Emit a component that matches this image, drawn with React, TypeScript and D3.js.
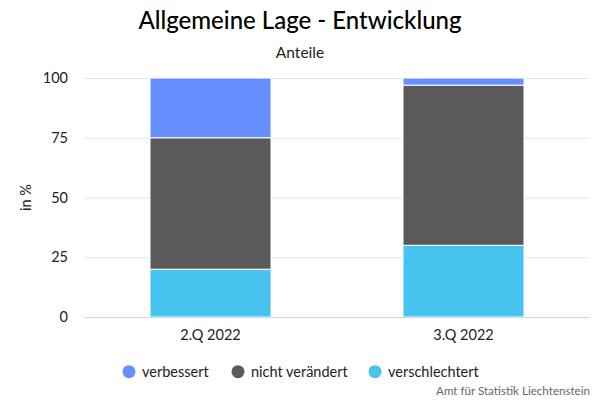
import React from "react";
import * as d3 from "d3";

const categories = ["2.Q 2022", "3.Q 2022"];
const seriesNames = ["verbessert", "nicht verändert", "verschlechtert"];
const verbessert = [25, 3];
const nichtVeraendert = [55, 67];
const verschlechtert = [20, 30];
const yTicks = [0, 25, 50, 75, 100];
const colors = ["#6690ff", "#5a5a5b", "#47c3f0"];

export default function App() {
  const W = 600, H = 400;
  const left = 84, right = 590, top = 78, bottom = 317;
  const x = d3.scaleBand().domain(categories).range([left, right]);
  const y = d3.scaleLinear().domain([0, 100]).range([bottom, top]);
  const barW = 121;
  const font = "Lato, 'Open Sans', sans-serif";

  const rows = categories.map((c, i) => ({
    cat: c,
    verschlechtert: verschlechtert[i],
    nicht: nichtVeraendert[i],
    verbessert: verbessert[i],
  }));
  const stack = d3.stack<any>().keys(["verschlechtert", "nicht", "verbessert"]);
  const stacked = stack(rows);
  const colorFor: Record<string, string> = {
    verbessert: colors[0],
    nicht: colors[1],
    verschlechtert: colors[2],
  };

  const legendX = [129, 238, 375];

  return (
    <svg width={W} height={H} style={{ position: "absolute", left: 0, top: 0, fontFamily: font }}>
      <rect width={W} height={H} fill="#fff" />
      <text x={300} y={29} textAnchor="middle" fontSize={24} fontWeight={500} fill="#000">
        Allgemeine Lage - Entwicklung
      </text>
      <text x={300} y={58} textAnchor="middle" fontSize={15.5} fill="#222">
        Anteile
      </text>
      {yTicks.map((t) => (
        <g key={t}>
          {t !== 0 && (
            <line x1={left} x2={right} y1={y(t) + 0.5} y2={y(t) + 0.5} stroke="#e6e6e6" />
          )}
          <text x={68} y={y(t) + 5} textAnchor="end" fontSize={14.5} fill="#222">
            {t}
          </text>
        </g>
      ))}
      <text
        transform={`translate(31,${(top + bottom) / 2}) rotate(-90)`}
        textAnchor="middle"
        fontSize={14.5}
        fill="#222"
      >
        in %
      </text>
      {stacked.map((s) => (
        <g key={s.key}>
          {s.map((d, i) => {
            const cx = (x(categories[i]) as number) + x.bandwidth() / 2;
            return (
              <rect
                key={i}
                x={cx - barW / 2}
                y={y(d[1])}
                width={barW}
                height={y(d[0]) - y(d[1])}
                fill={colorFor[s.key]}
                stroke="#fff"
                strokeWidth={1}
              />
            );
          })}
        </g>
      ))}
      <line x1={left} x2={right} y1={bottom + 0.5} y2={bottom + 0.5} stroke="#ccd6eb" />
      {categories.map((c) => (
        <text
          key={c}
          x={(x(c) as number) + x.bandwidth() / 2}
          y={340}
          textAnchor="middle"
          fontSize={14.5}
          fill="#222"
        >
          {c}
        </text>
      ))}
      {seriesNames.map((n, i) => (
        <g key={n}>
          <circle cx={legendX[i]} cy={371.7} r={6.5} fill={colors[i]} />
          <text x={legendX[i] + 13} y={377} fontSize={14.5} fill="#222">
            {n}
          </text>
        </g>
      ))}
      <text x={590} y={395} textAnchor="end" fontSize={11.6} fill="#666">
        Amt für Statistik Liechtenstein
      </text>
    </svg>
  );
}
